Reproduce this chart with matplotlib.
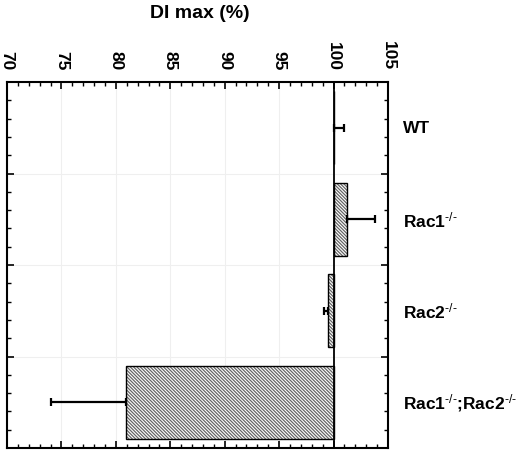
import numpy as np
import matplotlib
matplotlib.use("Agg")
import matplotlib.pyplot as plt
from matplotlib.ticker import MultipleLocator, FixedLocator

plt.rcParams['font.family'] = ['Liberation Sans', 'DejaVu Sans']
plt.rcParams['mathtext.fontset'] = 'custom'
plt.rcParams['mathtext.rm'] = 'Liberation Sans'
plt.rcParams['mathtext.it'] = 'Liberation Sans'
plt.rcParams['hatch.linewidth'] = 0.9

categories = ["WT", "Rac1$^{\u2010/\u2010}$", "Rac2$^{\u2010/\u2010}$",
              "Rac1$^{\u2010/\u2010}$;Rac2$^{\u2010/\u2010}$"]
values = [100.0, 101.2, 99.5, 80.9]
errors = [1.0, 2.6, 0.4, 6.9]
baseline = 100.0
x_ticks = [70, 75, 80, 85, 90, 95, 100, 105]

fig = plt.figure(figsize=(5.2, 4.52), dpi=100)
ax = fig.add_axes([7/520, 1-449/452, 381/520, 366/452])

y = np.arange(len(categories))
vals = np.array(values)
errs = np.array(errors)
widths = vals - baseline

ax.barh(y, widths, left=baseline, height=0.8, color='white',
        edgecolor='#666666', hatch='\\' * 10, linewidth=0, zorder=2)
ax.barh(y, widths, left=baseline, height=0.8, fill=False,
        edgecolor='black', linewidth=1.0, zorder=3)

lo = np.where(widths < 0, errs, 0)
hi = np.where(widths >= 0, errs, 0)
ax.errorbar(vals, y, xerr=[lo, hi], fmt='none', ecolor='black',
            elinewidth=1.6, capsize=2.6, capthick=1.6, zorder=4)

ax.axvline(baseline, color='black', linewidth=1.3, zorder=5)

ax.set_xlim(70, 105)
ax.set_ylim(len(categories) - 0.5, -0.5)

ax.xaxis.set_major_locator(FixedLocator(x_ticks))
ax.xaxis.set_minor_locator(MultipleLocator(1))
ax.yaxis.set_major_locator(FixedLocator(np.arange(-0.5, len(categories), 1.0)))
ax.yaxis.set_minor_locator(FixedLocator(np.arange(-0.5, len(categories) - 0.4, 0.2)))

ax.tick_params(axis='x', which='both', top=True, bottom=True, labeltop=True,
               labelbottom=False, direction='in')
ax.tick_params(axis='y', which='both', left=True, right=True, labelleft=False,
               labelright=False, direction='in')
ax.tick_params(which='major', length=5, width=1.2)
ax.tick_params(which='minor', length=3, width=1.0)
ax.tick_params(axis='x', which='major', labelrotation=-90, labelsize=12.5, pad=9)
for lab in ax.get_xticklabels():
    lab.set_fontweight('bold')

ax.grid(True, which='major', color='#efefef', linewidth=0.8, zorder=0)
ax.set_axisbelow(True)

for s in ax.spines.values():
    s.set_linewidth(1.5)

for yi, cat in zip(y, categories):
    ax.text(1.04, yi, cat, transform=ax.get_yaxis_transform(), ha='left',
            va='center', fontsize=12.5, fontweight='bold')

fig.text(200/520, 1-13/452, "DI max (%)", ha='center', va='center',
         fontsize=14, fontweight='bold')

fig.savefig("out.png", dpi=100)
